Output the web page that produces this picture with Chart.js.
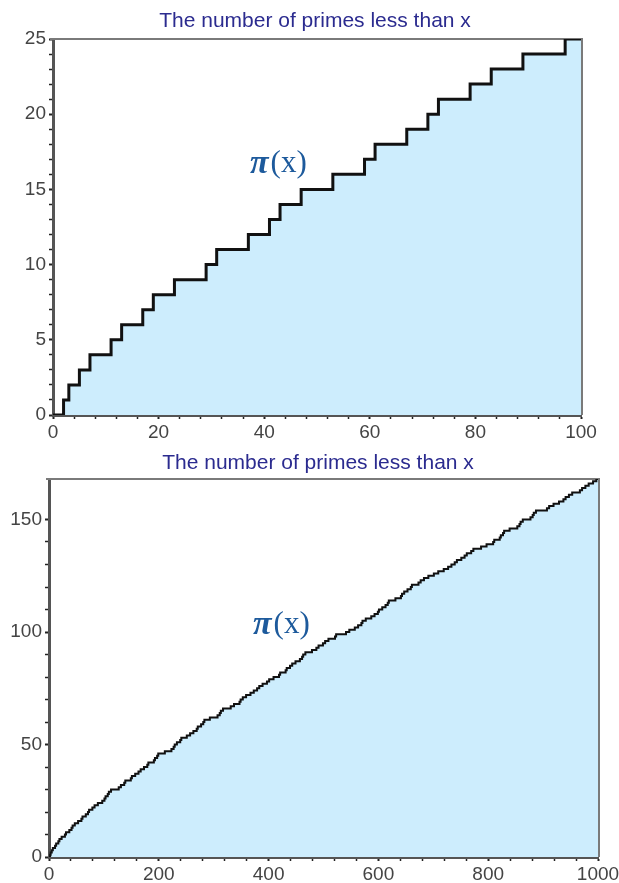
<!DOCTYPE html>
<html>
<head>
<meta charset="utf-8">
<script src="https://cdn.jsdelivr.net/npm/chart.js@4"></script>
<style>
  html, body { margin: 0; padding: 0; background: #fff; }
  #wrap { position: relative; width: 619px; height: 883px; }
  canvas { position: absolute; left: 0; }
</style>
</head>
<body>
<div id="wrap">
  <canvas id="top" width="619" height="440" style="top:0;width:619px;height:440px"></canvas>
  <canvas id="bottom" width="619" height="443" style="top:440px;width:619px;height:443px"></canvas>
</div>
<script>
// primes below 1000
var primes = [2, 3, 5, 7, 11, 13, 17, 19, 23, 29, 31, 37, 41, 43, 47, 53, 59, 61, 67, 71,
  73, 79, 83, 89, 97, 101, 103, 107, 109, 113, 127, 131, 137, 139, 149, 151, 157, 163, 167, 173,
  179, 181, 191, 193, 197, 199, 211, 223, 227, 229, 233, 239, 241, 251, 257, 263, 269, 271, 277, 281,
  283, 293, 307, 311, 313, 317, 331, 337, 347, 349, 353, 359, 367, 373, 379, 383, 389, 397, 401, 409,
  419, 421, 431, 433, 439, 443, 449, 457, 461, 463, 467, 479, 487, 491, 499, 503, 509, 521, 523, 541,
  547, 557, 563, 569, 571, 577, 587, 593, 599, 601, 607, 613, 617, 619, 631, 641, 643, 647, 653, 659,
  661, 673, 677, 683, 691, 701, 709, 719, 727, 733, 739, 743, 751, 757, 761, 769, 773, 787, 797, 809,
  811, 821, 823, 827, 829, 839, 853, 857, 859, 863, 877, 881, 883, 887, 907, 911, 919, 929, 937, 941,
  947, 953, 967, 971, 977, 983, 991, 997];

var titleText = 'The number of primes less than x';
var xTicksTop = [0, 20, 40, 60, 80, 100];
var yTicksTop = [0, 5, 10, 15, 20, 25];
var xTicksBottom = [0, 200, 400, 600, 800, 1000];
var yTicksBottom = [0, 50, 100, 150];

var fillColor = '#cdedfd';
var axisColor = '#555555';
var labelColor = '#444444';

function stairs(limit) {
  var pts = [{x: 0, y: 0}];
  var n = 0;
  primes.forEach(function (p) {
    if (p <= limit) { n++; pts.push({x: p, y: n}); }
  });
  pts.push({x: limit, y: n});
  return pts;
}

// title, pi(x) label and the grey frame on top / right
var decor = {
  id: 'decor',
  beforeDatasetsDraw: function (chart) {
    var a = chart.chartArea, ctx = chart.ctx;
    ctx.save();
    ctx.strokeStyle = '#7a7a7a';
    ctx.lineWidth = 2;
    ctx.beginPath();
    ctx.moveTo(a.left - 3, a.top);
    ctx.lineTo(a.right + 1, a.top);
    ctx.lineTo(a.right + 1, a.bottom);
    ctx.stroke();
    ctx.restore();
  },
  afterDraw: function (chart, args, opts) {
    var ctx = chart.ctx;
    ctx.save();
    ctx.fillStyle = '#2b2b8f';
    ctx.font = '21px "Liberation Sans", Arial, sans-serif';
    ctx.textAlign = 'center';
    ctx.textBaseline = 'middle';
    ctx.fillText(titleText, opts.titleX, opts.titleY);

    ctx.fillStyle = '#1d5a9c';
    ctx.textAlign = 'left';
    ctx.font = 'italic bold 34px "Liberation Serif", "Times New Roman", serif';
    var x0 = opts.labelX;
    ctx.fillText('\u03c0', x0, opts.labelY);
    var w = ctx.measureText('\u03c0').width;
    ctx.font = '31px "Liberation Serif", "Times New Roman", serif';
    ctx.fillText('(x)', x0 + w + 2, opts.labelY);
    ctx.restore();
  }
};

function makeChart(id, limit, yMax, xStep, xMajor, yStep, yMajor, box, deco) {
  var ctx = document.getElementById(id).getContext('2d');
  return new Chart(ctx, {
    type: 'line',
    data: {
      datasets: [{
        data: stairs(limit),
        stepped: true,
        borderColor: '#111111',
        borderWidth: limit > 100 ? 2 : 3,
        backgroundColor: fillColor,
        fill: 'origin',
        pointRadius: 0
      }]
    },
    plugins: [decor],
    options: {
      responsive: false,
      animation: false,
      events: [],
      layout: { padding: { left: 0, top: box.top, right: box.right, bottom: 0 } },
      plugins: {
        legend: { display: false },
        tooltip: { enabled: false },
        decor: deco
      },
      scales: {
        x: {
          type: 'linear',
          min: 0,
          max: limit,
          ticks: {
            stepSize: xStep,
            autoSkip: false,
            maxRotation: 0,
            padding: 2,
            color: labelColor,
            font: { family: '"Liberation Sans", Arial, sans-serif', size: 19 },
            callback: function (v) { return xMajor.indexOf(v) >= 0 ? String(v) : ''; }
          },
          grid: {
            drawOnChartArea: false,
            tickLength: 4,
            tickColor: '#222',
            tickWidth: function (c) { return xMajor.indexOf(c.tick && c.tick.value) >= 0 ? 2 : 1.5; }
          },
          border: { color: axisColor, width: 3 },
          afterFit: function (s) { s.height = box.xh; s.paddingLeft = 0; s.paddingRight = 0; }
        },
        y: {
          type: 'linear',
          min: 0,
          max: yMax,
          ticks: {
            stepSize: yStep,
            autoSkip: false,
            padding: 3,
            color: labelColor,
            font: { family: '"Liberation Sans", Arial, sans-serif', size: 19 },
            callback: function (v) { return yMajor.indexOf(v) >= 0 ? String(v) : ''; }
          },
          grid: {
            drawOnChartArea: false,
            tickLength: 4,
            tickColor: function (c) { return (c.tick && c.tick.value % yStep === 0) ? '#222' : 'rgba(0,0,0,0)'; },
            tickWidth: function (c) { return yMajor.indexOf(c.tick && c.tick.value) >= 0 ? 2 : 1.5; }
          },
          border: { color: axisColor, width: 3 },
          afterFit: function (s) { s.width = box.yw; s.paddingTop = 0; s.paddingBottom = 0; }
        }
      }
    }
  });
}

makeChart('top', 100, 25, 4, xTicksTop, 1, yTicksTop,
  { top: 39, right: 38, xh: 25, yw: 53 },
  { titleX: 315, titleY: 21, labelX: 250, labelY: 164 });

makeChart('bottom', 1000, 168, 40, xTicksBottom, 10, yTicksBottom,
  { top: 39, right: 21, xh: 26, yw: 49 },
  { titleX: 318, titleY: 23, labelX: 253, labelY: 185 });
</script>
</body>
</html>
